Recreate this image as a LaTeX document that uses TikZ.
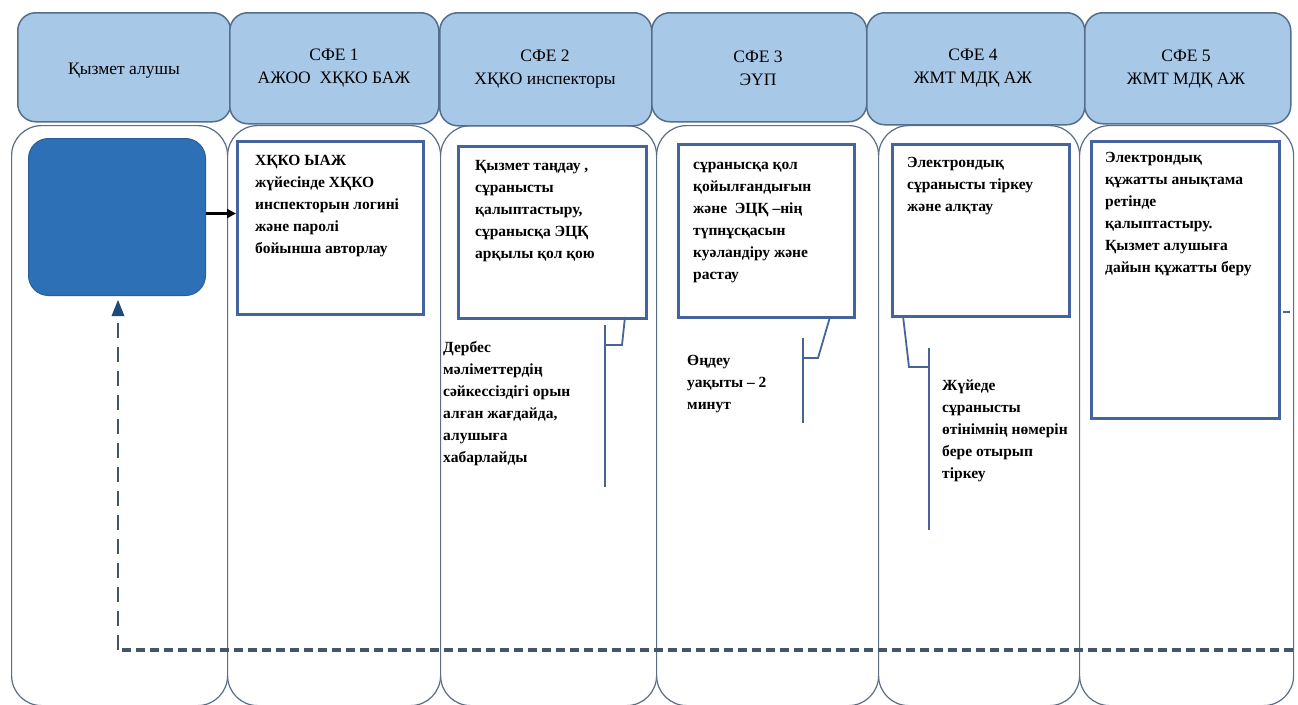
\documentclass[tikz,border=0pt]{standalone}
\usepackage{fontspec}
\setmainfont{Liberation Serif}
\usetikzlibrary{arrows.meta}
\definecolor{hdrfill}{RGB}{168,200,232}
\definecolor{hdrline}{RGB}{85,110,140}
\definecolor{laneline}{RGB}{90,110,135}
\definecolor{darkfill}{RGB}{46,112,182}
\definecolor{darkedge}{RGB}{40,95,155}
\definecolor{boxline}{RGB}{68,100,160}
\definecolor{callline}{RGB}{70,100,150}
\definecolor{dashcol}{RGB}{68,84,106}
\definecolor{tipcol}{RGB}{31,73,125}
\begin{document}
\begin{tikzpicture}[x=1pt,y=-1pt,
  lanebox/.style={draw=laneline,line width=1.2pt,fill=white,rounded corners=30pt,rectangle,inner sep=0pt,anchor=north west},
  hdrbox/.style={draw=hdrline,line width=1.5pt,fill=hdrfill,rounded corners=18pt,rectangle,inner sep=0pt,anchor=north west},
  hdrtxt/.style={align=center,inner sep=0pt,font=\fontsize{17.5}{23}\selectfont},
  procbox/.style={draw=boxline,line width=2.5pt,fill=white,rectangle,inner sep=0pt,anchor=north west},
  bodytxt/.style={align=left,inner sep=0pt,anchor=north west,font=\fontsize{15.5}{22}\selectfont\bfseries},
  callout/.style={draw=callline,line width=1.8pt},
]
\useasboundingbox (0,0) rectangle (1298,704);
\fill[white] (0,0) rectangle (1298,704);

% lanes
\node[lanebox,minimum width=216pt,minimum height=580pt] (lane1) at (11,125) {};
\node[lanebox,minimum width=213pt,minimum height=580pt] (lane2) at (227,125) {};
\node[lanebox,minimum width=216pt,minimum height=580pt] (lane3) at (440,125) {};
\node[lanebox,minimum width=222pt,minimum height=580pt] (lane4) at (656,125) {};
\node[lanebox,minimum width=201pt,minimum height=580pt] (lane5) at (878,125) {};
\node[lanebox,minimum width=214pt,minimum height=580pt] (lane6) at (1079,125) {};

% headers
\node[hdrbox,minimum width=213pt,minimum height=109pt] (h1) at (17,12) {};
\node[hdrbox,minimum width=209pt,minimum height=111pt] (h2) at (229,12) {};
\node[hdrbox,minimum width=212pt,minimum height=113pt] (h3) at (439,12) {};
\node[hdrbox,minimum width=215pt,minimum height=109pt] (h4) at (651,12) {};
\node[hdrbox,minimum width=218pt,minimum height=112pt] (h5) at (866,12) {};
\node[hdrbox,minimum width=206pt,minimum height=111pt] (h6) at (1084,12) {};

\node[hdrtxt] (t1) at (124,71) {Қызмет алушы};
\node[hdrtxt] (t2) at (334,68) {СФЕ 1\\АЖОО\ \ ХҚКО БАЖ};
\node[hdrtxt] (t3) at (545,69) {СФЕ 2\\ХҚКО инспекторы};
\node[hdrtxt] (t4) at (758,68) {СФЕ 3\\ЭҮП};
\node[hdrtxt] (t5) at (973,68) {СФЕ 4\\ЖМТ МДҚ АЖ};
\node[hdrtxt] (t6) at (1186,69) {СФЕ 5\\ЖМТ МДҚ АЖ};

% lane 1 dark box
\node[draw=darkedge,line width=1pt,fill=darkfill,rounded corners=20pt,rectangle,inner sep=0pt,anchor=north west,minimum width=177pt,minimum height=157pt] (dark) at (28,138) {};

% process boxes
\node[procbox,minimum width=186pt,minimum height=173pt] (boxA) at (236,140) {};
\node[procbox,minimum width=188pt,minimum height=172pt] (boxB) at (457,145) {};
\node[procbox,minimum width=176pt,minimum height=173pt] (boxC) at (677,143) {};
\node[procbox,minimum width=177pt,minimum height=172pt] (boxD) at (891,143) {};
\node[procbox,minimum width=188pt,minimum height=277pt] (boxE) at (1090,140) {};

\node[bodytxt] (txA) at (255,155) {ХҚКО ЫАЖ\\жүйесінде ХҚКО\\инспекторын логині\\және паролі\\бойынша авторлау};
\node[bodytxt] (txB) at (475,160) {Қызмет таңдау ,\\сұранысты\\қалыптастыру,\\сұранысқа ЭЦҚ\\арқылы қол қою};
\node[bodytxt] (txC) at (693,162) {сұранысқа қол\\қойылғандығын\\және\ \ ЭЦҚ –нің\\түпнұсқасын\\куәландіру және\\растау};
\node[bodytxt] (txD) at (907,157) {Электрондық\\сұранысты тіркеу\\және алқтау};
\node[bodytxt] (txE) at (1105,152) {Электрондық\\құжатты анықтама\\ретінде\\қалыптастыру.\\Қызмет алушыға\\дайын құжатты беру};

% callouts
\node[bodytxt] (cB) at (443,341) {Дербес\\мәліметтердің\\сәйкессіздігі орын\\алған жағдайда,\\алушыға\\хабарлайды};
\node[bodytxt] (cC) at (687,355) {Өңдеу\\уақыты – 2\\минут};
\node[bodytxt] (cD) at (942,380) {Жүйеде\\сұранысты\\өтінімнің нөмерін\\бере отырып\\тіркеу};

\coordinate (kB1) at (605,325); \coordinate (kB2) at (605,487);
\coordinate (kB3) at (605,345); \coordinate (kB4) at (622,345);
\coordinate (kB5) at (625,317);
\draw[callout] (kB1) -- (kB2);
\draw[callout] (kB3) -- (kB4) -- (kB5);

\coordinate (kC1) at (803,338); \coordinate (kC2) at (803,423);
\coordinate (kC3) at (803,358); \coordinate (kC4) at (818,358);
\coordinate (kC5) at (830,317);
\draw[callout] (kC1) -- (kC2);
\draw[callout] (kC3) -- (kC4) -- (kC5);

\coordinate (kD1) at (929,348); \coordinate (kD2) at (929,530);
\coordinate (kD3) at (929,367); \coordinate (kD4) at (909,367);
\coordinate (kD5) at (903,316);
\draw[callout] (kD1) -- (kD2);
\draw[callout] (kD3) -- (kD4) -- (kD5);

% arrow dark -> boxA
\draw[line width=3pt,-{Triangle[length=9pt,width=9pt]}] ([yshift=3.5pt]dark.east) -- ([yshift=3.5pt]dark.east -| boxA.west);

% dashed return
\coordinate (dashR) at (1293,650);
\coordinate (dashC) at (118,650);
\draw[dashcol,line width=3.5pt,dash pattern=on 9pt off 5pt] (dashR) -- (dashC);
\draw[dashcol,line width=2.5pt,dash pattern=on 15pt off 9pt] (dashC) -- ([yshift=-16pt]dashC |- dark.south);
\fill[tipcol] ([yshift=-4pt]dashC |- dark.south) -- ++(-6.5,16) -- ++(13,0) -- cycle;

% small tick at right
\draw[boxline,line width=2pt] (1283,312) -- (1290,312);
\end{tikzpicture}
\end{document}
